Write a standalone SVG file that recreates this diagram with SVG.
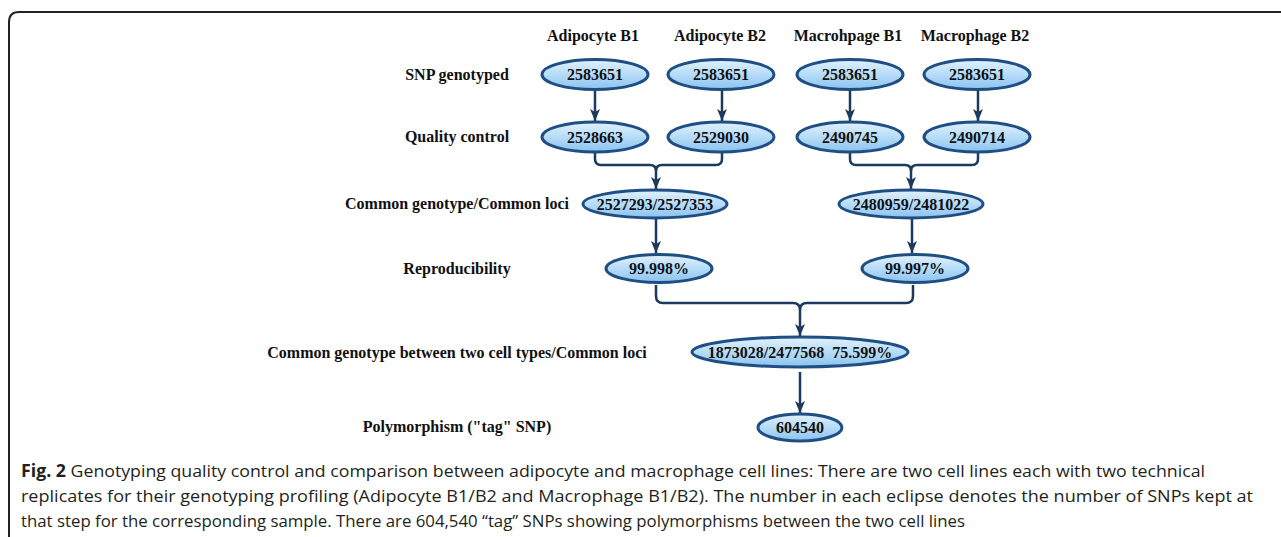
<svg xmlns="http://www.w3.org/2000/svg" width="1281" height="537" viewBox="0 0 1281 537">
<style>
.bg{fill:#ffffff}
.frame{fill:none;stroke:#222;stroke-width:2}
.node ellipse{fill:url(#g);stroke:#1f4f82;stroke-width:3}
.num{font-family:"Liberation Serif","Times New Roman",serif;font-weight:bold;font-size:16px;fill:#111;text-anchor:middle}
.lab{font-family:"Liberation Serif","Times New Roman",serif;font-weight:bold;font-size:16px;fill:#111;text-anchor:middle}
.con{fill:none;stroke:#1c3a5e;stroke-width:2.5}
.cap{font-family:"Open Sans","Noto Sans","Liberation Sans",sans-serif;font-size:17px;fill:#231f20}
</style>
<defs>
<linearGradient id="g" x1="0" y1="0" x2="0" y2="1">
<stop offset="0" stop-color="#e2f1fd"/>
<stop offset="0.5" stop-color="#b6dcf8"/>
<stop offset="1" stop-color="#8cc2ee"/>
</linearGradient>
<marker id="ah" markerUnits="userSpaceOnUse" markerWidth="12" markerHeight="12" viewBox="0 0 12 10" refX="12" refY="5" orient="auto">
<path d="M0,0 L12,5 L0,10 L3,5 z" fill="#1c3a5e"/>
</marker>
</defs>
<rect class="bg" x="0" y="0" width="1281" height="537"/>
<path class="frame" d="M9,537 V22 Q9,12 19,12 H1281"/>

<g id="headers">
<text class="lab" x="593" y="41">Adipocyte B1</text>
<text class="lab" x="720" y="41">Adipocyte B2</text>
<text class="lab" x="848" y="41">Macrohpage B1</text>
<text class="lab" x="975" y="41">Macrophage B2</text>
</g>
<g id="row-labels">
<text class="lab" x="457" y="80">SNP genotyped</text>
<text class="lab" x="457" y="142">Quality control</text>
<text class="lab" x="457" y="209">Common genotype/Common loci</text>
<text class="lab" x="457" y="274">Reproducibility</text>
<text class="lab" x="457" y="358">Common genotype between two cell types/Common loci</text>
<text class="lab" x="457" y="432">Polymorphism ("tag" SNP)</text>
</g>

<g id="connectors">
<path class="con" d="M595,90 V121" marker-end="url(#ah)"/>
<path class="con" d="M722,90 V121" marker-end="url(#ah)"/>
<path class="con" d="M850,90 V121" marker-end="url(#ah)"/>
<path class="con" d="M978,90 V121" marker-end="url(#ah)"/>
<path class="con" d="M595,152 V159 Q595,165 601,165 H650 Q656,165 656,171 V189" marker-end="url(#ah)"/>
<path class="con" d="M722,152 V159 Q722,165 716,165 H662 Q656,165 656,171"/>
<path class="con" d="M850,152 V159 Q850,165 856,165 H905 Q911,165 911,171 V189" marker-end="url(#ah)"/>
<path class="con" d="M978,152 V159 Q978,165 972,165 H917 Q911,165 911,171"/>
<path class="con" d="M656,218 V253" marker-end="url(#ah)"/>
<path class="con" d="M912,218 V253" marker-end="url(#ah)"/>
<path class="con" d="M656,285 V296 Q656,303 663,303 H793 Q800,303 800,310 V336" marker-end="url(#ah)"/>
<path class="con" d="M913,285 V296 Q913,303 906,303 H807 Q800,303 800,310"/>
<path class="con" d="M800,372 V413" marker-end="url(#ah)"/>
</g>

<g id="n-a1-snp" class="node"><ellipse cx="595" cy="74.5" rx="53" ry="15"/><text class="num" x="595" y="80">2583651</text></g>
<g id="n-a2-snp" class="node"><ellipse cx="721" cy="74.5" rx="53" ry="15"/><text class="num" x="721" y="80">2583651</text></g>
<g id="n-m1-snp" class="node"><ellipse cx="850" cy="74.5" rx="53" ry="15"/><text class="num" x="850" y="80">2583651</text></g>
<g id="n-m2-snp" class="node"><ellipse cx="977" cy="74.5" rx="53" ry="15"/><text class="num" x="977" y="80">2583651</text></g>

<g id="n-a1-qc" class="node"><ellipse cx="595" cy="137" rx="53" ry="15"/><text class="num" x="595" y="142.5">2528663</text></g>
<g id="n-a2-qc" class="node"><ellipse cx="721" cy="137" rx="53" ry="15"/><text class="num" x="721" y="142.5">2529030</text></g>
<g id="n-m1-qc" class="node"><ellipse cx="850" cy="137" rx="53" ry="15"/><text class="num" x="850" y="142.5">2490745</text></g>
<g id="n-m2-qc" class="node"><ellipse cx="977" cy="137" rx="53" ry="15"/><text class="num" x="977" y="142.5">2490714</text></g>

<g id="n-a-common" class="node"><ellipse cx="655" cy="204" rx="72" ry="14"/><text class="num" x="655" y="209.5">2527293/2527353</text></g>
<g id="n-m-common" class="node"><ellipse cx="911" cy="204" rx="72" ry="14"/><text class="num" x="911" y="209.5">2480959/2481022</text></g>

<g id="n-a-rep" class="node"><ellipse cx="659" cy="268.5" rx="53" ry="14"/><text class="num" x="659" y="274">99.998%</text></g>
<g id="n-m-rep" class="node"><ellipse cx="915" cy="268.5" rx="53" ry="14"/><text class="num" x="915" y="274">99.997%</text></g>

<g id="n-between" class="node"><ellipse cx="800" cy="352" rx="108" ry="15"/><text class="num" x="800" y="357.5">1873028/2477568&#160; 75.599%</text></g>
<g id="n-poly" class="node"><ellipse cx="800" cy="427.5" rx="42" ry="13.5"/><text class="num" x="800" y="433">604540</text></g>

<g id="caption">
<text class="cap" x="21" y="477" textLength="1184" lengthAdjust="spacingAndGlyphs"><tspan font-weight="bold">Fig. 2</tspan> Genotyping quality control and comparison between adipocyte and macrophage cell lines: There are two cell lines each with two technical</text>
<text class="cap" x="21" y="502" textLength="1232" lengthAdjust="spacingAndGlyphs">replicates for their genotyping profiling (Adipocyte B1/B2 and Macrophage B1/B2). The number in each eclipse denotes the number of SNPs kept at</text>
<text class="cap" x="21" y="527" textLength="944" lengthAdjust="spacingAndGlyphs">that step for the corresponding sample. There are 604,540 “tag” SNPs showing polymorphisms between the two cell lines</text>
</g>
</svg>
